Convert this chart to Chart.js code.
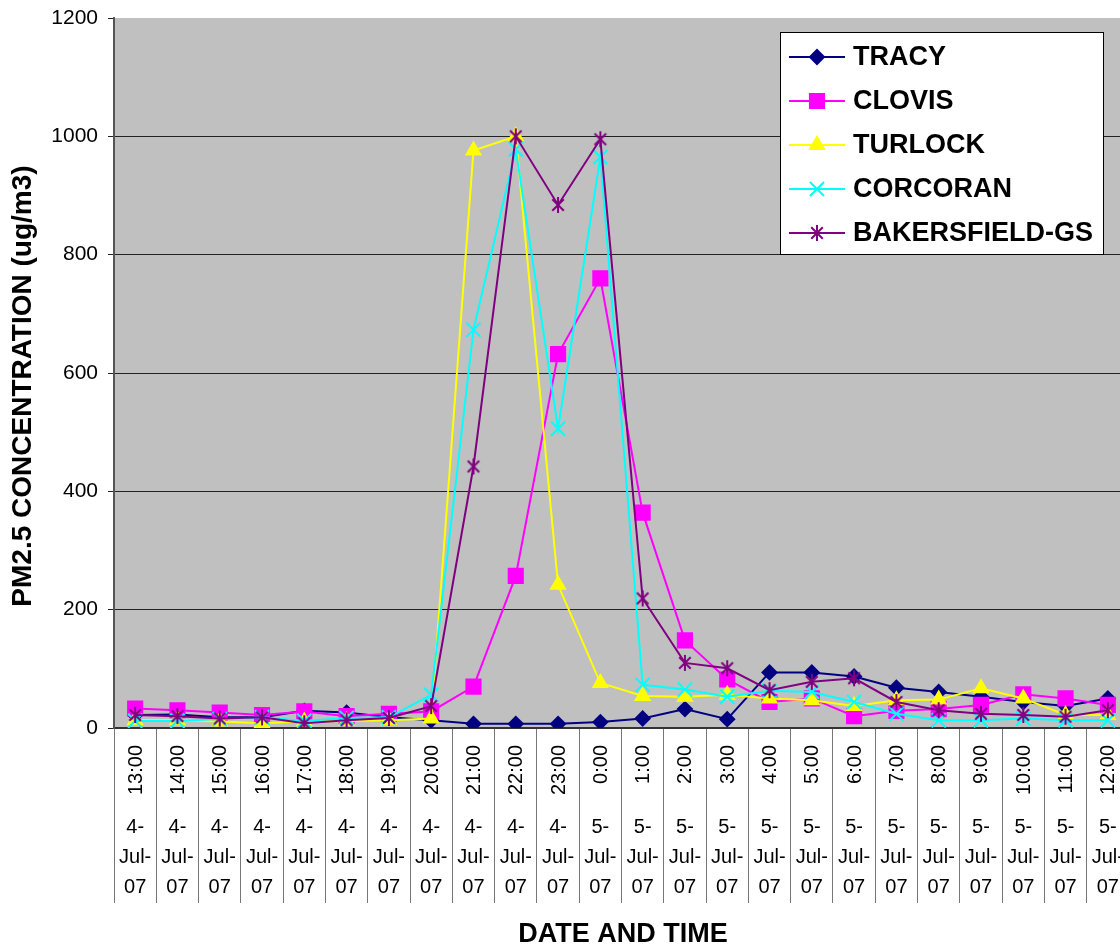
<!DOCTYPE html>
<html>
<head>
<meta charset="utf-8">
<script src="https://cdn.jsdelivr.net/npm/chart.js@4.4.0/dist/chart.umd.min.js"></script>
<style>
  html, body { margin: 0; padding: 0; overflow: hidden; background: #fff; width: 1120px; height: 948px; }
  canvas { display: block; }
</style>
</head>
<body>
<canvas id="pm" width="1130" height="948"></canvas>
<script>
// Hourly PM2.5 readings, 4-5 July 2007
const hours = ['13:00','14:00','15:00','16:00','17:00','18:00','19:00','20:00','21:00','22:00','23:00',
               '0:00','1:00','2:00','3:00','4:00','5:00','6:00','7:00','8:00','9:00','10:00','11:00','12:00'];
const dates = ['4-Jul-07','4-Jul-07','4-Jul-07','4-Jul-07','4-Jul-07','4-Jul-07','4-Jul-07','4-Jul-07','4-Jul-07','4-Jul-07','4-Jul-07',
               '5-Jul-07','5-Jul-07','5-Jul-07','5-Jul-07','5-Jul-07','5-Jul-07','5-Jul-07','5-Jul-07','5-Jul-07','5-Jul-07','5-Jul-07','5-Jul-07','5-Jul-07'];

const tracy       = [22, 23, 18, 18, 29, 26, 18, 13, 7, 7, 7, 10, 16, 32, 15, 94, 94, 87, 68, 61, 53, 44, 37, 50];
const clovis      = [33, 30, 26, 22, 28, 20, 24, 28, 70, 257, 632, 760, 364, 148, 82, 44, 50, 20, 29, 32, 39, 57, 50, 39];
const turlock     = [13, 13, 11, 8, 11, 12, 13, 16, 976, 1000, 242, 76, 54, 53, 56, 50, 47, 37, 47, 48, 67, 50, 22, 22];
const corcoran    = [12, 12, 15, 18, 12, 17, 18, 56, 673, 978, 506, 965, 73, 65, 53, 63, 61, 44, 24, 13, 13, 16, 13, 13];
const bakersfield = [22, 20, 16, 18, 8, 13, 17, 37, 442, 1000, 884, 995, 219, 110, 101, 64, 78, 84, 44, 30, 24, 22, 19, 30];

const FONT = "'Liberation Sans', Arial, sans-serif";

// six-armed asterisk marker
function asterisk(color, size) {
  const c = document.createElement('canvas');
  c.width = c.height = size;
  const g = c.getContext('2d');
  g.strokeStyle = color;
  g.lineWidth = 2;
  const m = size / 2, r = size / 2 - 1, d = r * 0.72;
  g.beginPath();
  g.moveTo(m, m - r); g.lineTo(m, m + r);
  g.moveTo(m - d, m - d); g.lineTo(m + d, m + d);
  g.moveTo(m + d, m - d); g.lineTo(m - d, m + d);
  g.stroke();
  return c;
}

function series(label, data, color, style, radius, order) {
  return {
    label, data, order,
    borderColor: color,
    backgroundColor: color,
    pointBackgroundColor: color,
    pointBorderColor: color,
    pointStyle: style,
    pointRadius: radius,
    pointBorderWidth: 2,
    borderWidth: 2,
    tension: 0,
    fill: false
  };
}

const datasets = [
  series('TRACY', tracy, '#000080', 'rectRot', 7, 5),
  series('CLOVIS', clovis, '#FF00FF', 'rect', 10, 4),
  series('TURLOCK', turlock, '#FFFF00', 'triangle', 8, 3),
  series('CORCORAN', corcoran, '#00FFFF', 'crossRot', 10, 2),
  series('BAKERSFIELD-GS', bakersfield, '#800080', asterisk('#800080', 18), 9, 1)
];

const plotBackground = {
  id: 'plotBackground',
  beforeDraw(chart) {
    const { ctx, chartArea: a } = chart;
    ctx.save();
    ctx.fillStyle = '#C0C0C0';
    ctx.fillRect(a.left, a.top, a.right - a.left, a.bottom - a.top);
    ctx.restore();
  }
};

const axisText = {
  id: 'axisText',
  afterDraw(chart) {
    const { ctx, chartArea: a } = chart;
    const xs = chart.scales.x;
    ctx.save();
    ctx.fillStyle = '#000';
    // hour labels (vertical) and wrapped dates
    ctx.font = '20px ' + FONT;
    hours.forEach((h, i) => {
      const x = xs.getPixelForValue(i);
      ctx.save();
      ctx.translate(x + 1, a.bottom + 17);
      ctx.rotate(-Math.PI / 2);
      ctx.textAlign = 'right';
      ctx.textBaseline = 'middle';
      ctx.fillText(h, 0, 0);
      ctx.restore();
      const parts = dates[i].split('-');
      const lines = [parts[0] + '-', parts[1] + '-', parts[2]];
      ctx.textAlign = 'center';
      ctx.textBaseline = 'middle';
      lines.forEach((t, k) => ctx.fillText(t, x, a.bottom + 99 + k * 30));
    });
    // axis titles
    ctx.font = 'bold 27px ' + FONT;
    ctx.textAlign = 'center';
    ctx.textBaseline = 'middle';
    ctx.fillText('DATE AND TIME', 623, 935);
    ctx.save();
    ctx.translate(23, 386);
    ctx.rotate(-Math.PI / 2);
    ctx.font = 'bold 28px ' + FONT;
    ctx.fillText('PM2.5 CONCENTRATION (ug/m3)', 0, 0);
    ctx.restore();
    ctx.restore();
  }
};

const boxedLegend = {
  id: 'boxedLegend',
  afterDraw(chart) {
    const { ctx } = chart;
    const bx = 780, by = 32, bw = 323, bh = 222;
    ctx.save();
    ctx.fillStyle = '#fff';
    ctx.fillRect(bx, by, bw, bh);
    ctx.strokeStyle = '#000';
    ctx.lineWidth = 1;
    ctx.strokeRect(bx + 0.5, by + 0.5, bw, bh);
    chart.data.datasets.forEach((ds, i) => {
      const y = 57 + i * 44;
      ctx.strokeStyle = ds.borderColor;
      ctx.lineWidth = 2;
      ctx.beginPath();
      ctx.moveTo(789, y);
      ctx.lineTo(845, y);
      ctx.stroke();
      ctx.fillStyle = ds.borderColor;
      ctx.strokeStyle = ds.borderColor;
      Chart.helpers.drawPoint(ctx, {
        pointStyle: ds.pointStyle, rotation: 0,
        radius: ds.pointRadius, borderWidth: 2
      }, 817, y);
      ctx.fillStyle = '#000';
      ctx.font = 'bold 27px ' + FONT;
      ctx.textAlign = 'left';
      ctx.textBaseline = 'middle';
      ctx.fillText(ds.label, 853, y + 1);
    });
    ctx.restore();
  }
};

new Chart(document.getElementById('pm'), {
  type: 'line',
  data: { labels: hours, datasets },
  options: {
    responsive: false,
    animation: false,
    // the canvas is 10px wider than the page, so the last hour column is cut by the window edge
    layout: { autoPadding: false, padding: { top: 18, left: 0, right: 1, bottom: 0 } },
    plugins: { legend: { display: false }, tooltip: { enabled: false } },
    scales: {
      x: {
        type: 'category',
        offset: true,
        grid: { offset: true, drawOnChartArea: false, drawTicks: true, tickLength: 175, color: '#777', lineWidth: 1 },
        border: { color: '#333', width: 2 },
        ticks: { display: false },
        afterFit(s) { s.height = 220; s.paddingLeft = 0; s.paddingRight = 0; }
      },
      y: {
        min: 0, max: 1200,
        ticks: {
          stepSize: 200, color: '#000', font: { family: FONT, size: 21 }, padding: 10,
          callback: v => String(v)
        },
        grid: {
          color: c => (c.tick && c.tick.value === 1200) ? 'rgba(0,0,0,0)' : '#222',
          tickColor: '#222', tickLength: 6, lineWidth: 1
        },
        border: { color: '#555', width: 2 },
        afterFit(s) { s.width = 114; s.paddingTop = 0; s.paddingBottom = 0; }
      }
    }
  },
  plugins: [plotBackground, axisText, boxedLegend]
});
</script>
</body>
</html>
